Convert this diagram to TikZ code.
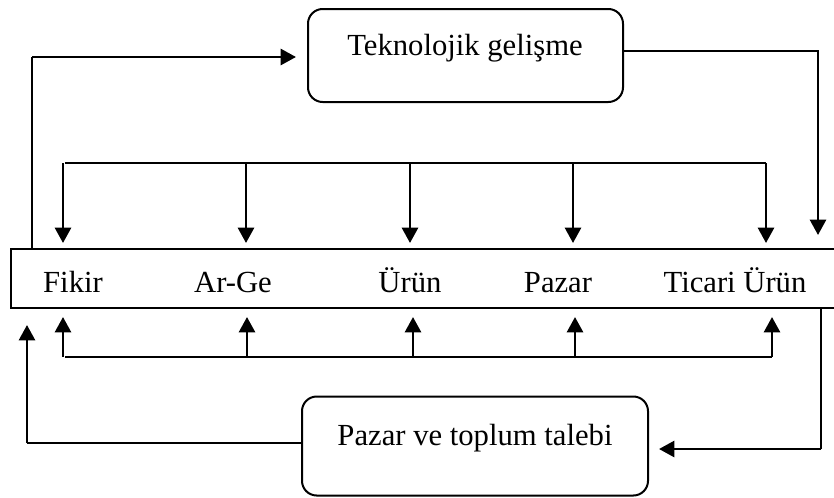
\documentclass[tikz,border=0pt]{standalone}
\usepackage{fontspec}
\setmainfont{Liberation Serif}
\usetikzlibrary{arrows.meta}
\begin{document}
\begin{tikzpicture}[x=0.75pt,y=-0.75pt,
  thinline/.style={line width=1pt},
  thickline/.style={line width=2pt},
  tip/.style={-{Triangle[length=11.5pt,width=12pt]}},
  roundbox/.style={draw,line width=1.5pt,rounded corners=11pt,inner sep=0pt},
  lbl/.style={font=\fontsize{23}{27}\selectfont,anchor=base,inner sep=0pt}]
\useasboundingbox (0,0) rectangle (834,497);
\begin{scope}
\clip (0,0) rectangle (834,497);
% stage bar (right side runs past the page edge)
\node[draw,line width=2pt,minimum width=834*0.75pt,minimum height=59*0.75pt,inner sep=0pt] (bar) at (428,278.5) {};
\end{scope}
% the two driver boxes
\node[roundbox,minimum width=315*0.75pt,minimum height=93*0.75pt] (tek) at (465.5,55.5) {};
\node[roundbox,minimum width=346*0.75pt,minimum height=99*0.75pt] (pzr) at (475,446) {};
\node[lbl] (tektext) at (465,55) {Teknolojik gelişme};
\node[lbl] (pzrtext) at (475,445) {Pazar ve toplum talebi};
% stage labels
\node[lbl] (fikir) at (73,292) {Fikir};
\node[lbl] (arge) at (233,292) {Ar-Ge};
\node[lbl] (urun) at (410,292) {Ürün};
\node[lbl] (pazar) at (558,292) {Pazar};
\node[lbl] (ticari) at (735,292) {Ticari Ürün};
% connector points
\coordinate (tl0) at (32,248);
\coordinate (tl1) at (32,57);
\coordinate (tlend) at (296,57);
\coordinate (tr1) at (818,51);
\coordinate (trend) at (818,235);
\coordinate (br0) at (821,308);
\coordinate (br1) at (821,449);
\coordinate (brend) at (659,449);
\coordinate (bl1) at (27,443);
\coordinate (blend) at (27,325);
% feedback loop into the technology box
\draw[thinline] (tl0) -- (tl1);
\draw[thickline,tip] (tl1) -- (tlend);
% technology box down to the end of the bar
\draw[thinline] (tek.east |- tr1) -- (tr1) -- (818,140);
\draw[thickline,tip] (818,138) -- (trend);
% market demand loop
\draw[thinline] (br0) -- (br1);
\draw[thickline,tip] (br1) -- (brend);
\draw[thinline] (pzr.west |- bl1) -- (bl1);
\draw[thickline,tip] (bl1) -- (blend);
% upper distribution line
\draw[thinline] (65,163) -- (766,163);
\foreach \x/\n in {63/a,246/b,410/c,573/d,766/e}{
  \coordinate (up\n) at (\x,163);
  \draw[thickline,tip] (up\n) -- (\x,243);
}
% lower distribution line
\draw[thinline] (65,357) -- (772,357);
\foreach \x/\n in {63/a,247/b,413/c,575/d,772/e}{
  \coordinate (lo\n) at (\x,357);
  \draw[thickline,tip] (lo\n) -- (\x,317);
}
\end{tikzpicture}
\end{document}
